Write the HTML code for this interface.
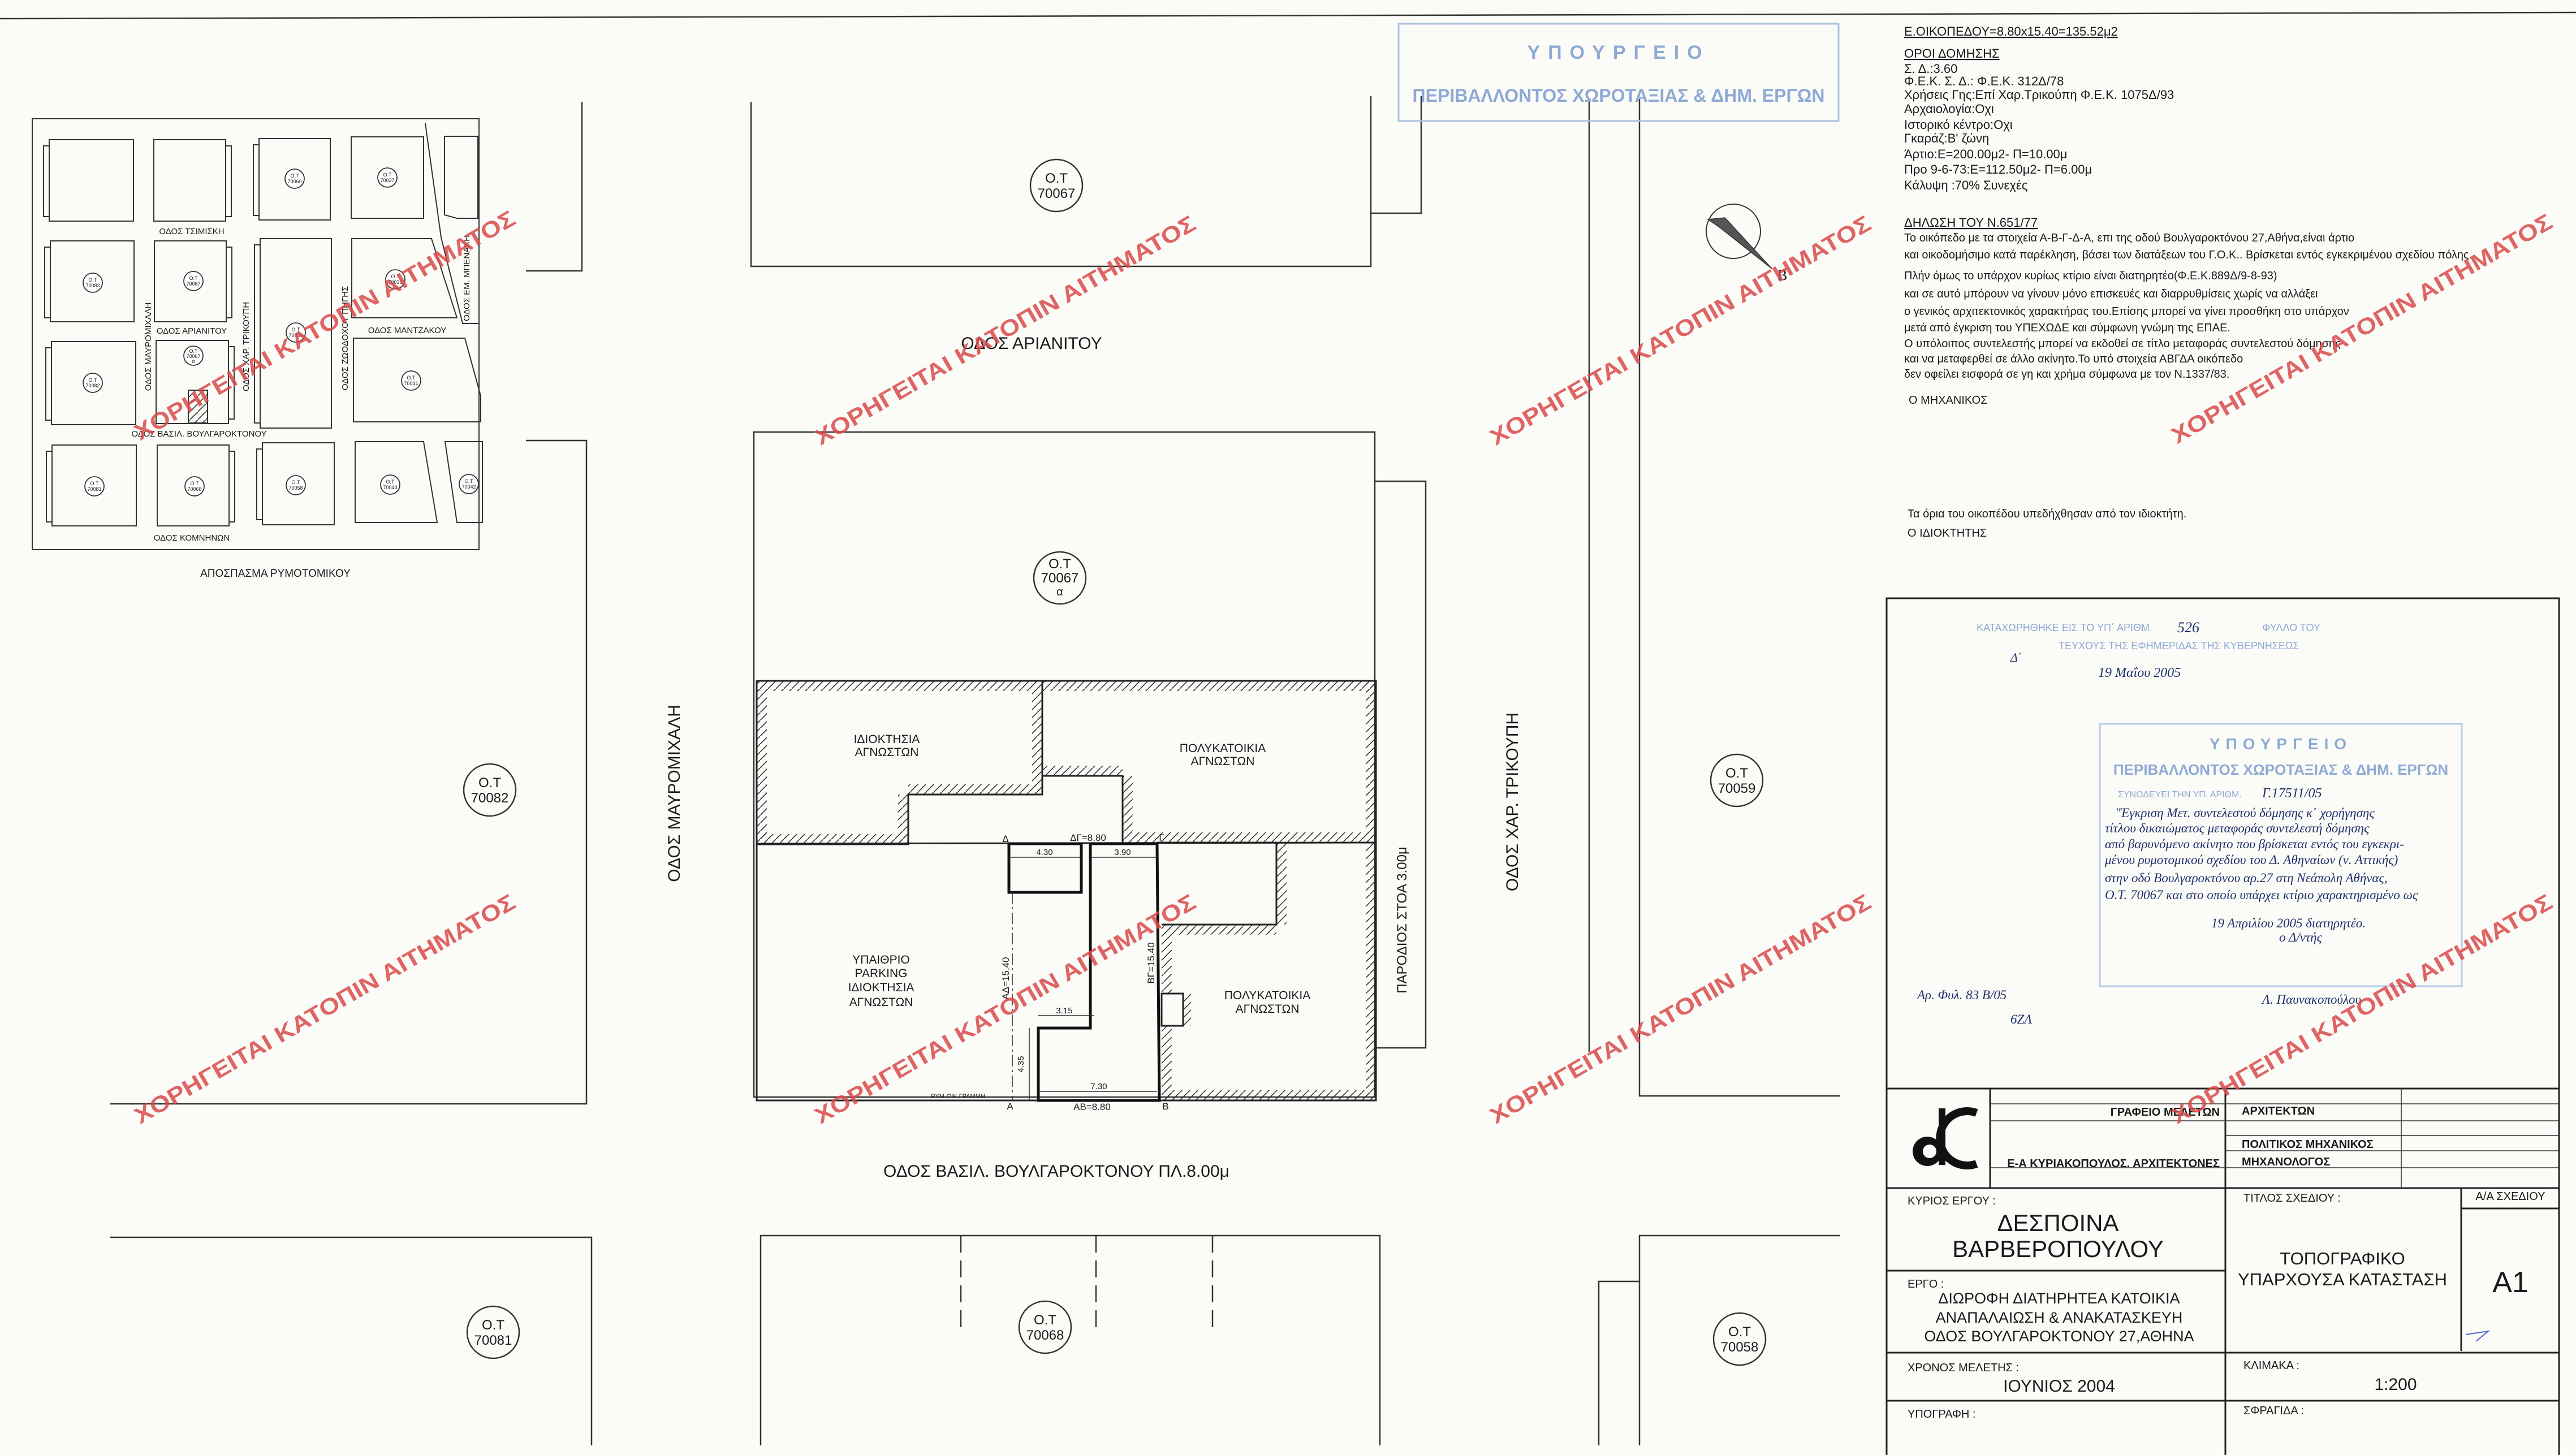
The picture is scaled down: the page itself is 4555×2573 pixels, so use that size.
<!DOCTYPE html>
<html><head><meta charset="utf-8"><style>
html,body{margin:0;padding:0;background:#fbfbf8}
svg{display:block}
text{font-family:"Liberation Sans",sans-serif;fill:#1a1a1a}
.wm text,text.wm{font-weight:bold;font-size:40px;fill:#d84a4a;fill-opacity:.85}
.bl,.bl text{fill:#1f2f6a;font-family:"Liberation Serif",serif;font-style:italic}
.st,.st text{fill:#8eaad4}
</style></head><body>
<svg width="4555" height="2573" viewBox="0 0 4555 2573" xmlns="http://www.w3.org/2000/svg">
<defs>
<pattern id="h" patternUnits="userSpaceOnUse" width="14" height="14">
<line x1="0" y1="14" x2="14" y2="0" stroke="#333" stroke-width="1.6"/>
</pattern>
</defs>
<rect width="4555" height="2573" fill="#fbfbf8"/>
<line x1="0" y1="33" x2="4555" y2="22" stroke="#333" stroke-width="2.5"/>

<!-- KEY MAP -->
<g stroke="#333" stroke-width="2" fill="none">
<rect x="57" y="210" width="790" height="762"/>
<rect x="87" y="247" width="149" height="144"/><rect x="77" y="258" width="10" height="125"/>
<rect x="272" y="247" width="127" height="144"/><rect x="399" y="258" width="10" height="125"/>
<rect x="458" y="245" width="126" height="144"/><rect x="448" y="256" width="10" height="125"/>
<rect x="621" y="242" width="128" height="144"/>
<polyline points="786,241 845,241 845,386 808,386 786,380 786,241"/>
<rect x="89" y="426" width="148" height="143"/><rect x="79" y="437" width="10" height="125"/>
<rect x="273" y="426" width="127" height="143"/><rect x="400" y="437" width="10" height="125"/>
<rect x="460" y="422" width="126" height="335"/><rect x="450" y="433" width="10" height="315"/>
<polygon points="622,422 763,422 808,562 622,562"/>
<polyline points="752,218 780,420 818,572 846,572"/>
<rect x="91" y="604" width="149" height="147"/><rect x="81" y="615" width="10" height="128"/>
<rect x="276" y="602" width="128" height="147"/><rect x="404" y="613" width="10" height="128"/>
<polygon points="625,598 822,598 850,700 850,746 625,746"/>
<rect x="92" y="787" width="149" height="143"/><rect x="82" y="798" width="10" height="125"/>
<rect x="278" y="787" width="127" height="143"/><rect x="405" y="798" width="10" height="125"/>
<rect x="464" y="783" width="127" height="145"/><rect x="454" y="794" width="10" height="125"/>
<polygon points="628,781 749,781 773,924 628,924"/>
<polygon points="787,781 853,781 853,924 808,924"/>
</g>
<rect x="333" y="690" width="34" height="58" fill="url(#h)" stroke="#333" stroke-width="2"/>
<g fill="#fff" stroke="#333" stroke-width="1.8">
<circle cx="521" cy="316" r="17"/><circle cx="685" cy="314" r="17"/><circle cx="164" cy="500" r="17"/><circle cx="342" cy="497" r="17"/><circle cx="699" cy="494" r="17"/><circle cx="523" cy="588" r="17"/><circle cx="342" cy="629" r="17"/><circle cx="164" cy="677" r="17"/><circle cx="727" cy="673" r="17"/><circle cx="167" cy="860" r="17"/><circle cx="344" cy="860" r="17"/><circle cx="523" cy="858" r="17"/><circle cx="690" cy="857" r="17"/><circle cx="829" cy="856" r="17"/>
</g>
<g font-size="9" text-anchor="middle">
<text x="521" y="314">Ο.Τ</text><text x="521" y="324">70060</text>
<text x="685" y="312">Ο.Τ</text><text x="685" y="322">70037</text>
<text x="164" y="498">Ο.Τ</text><text x="164" y="508">70083</text>
<text x="342" y="495">Ο.Τ</text><text x="342" y="505">70067</text>
<text x="699" y="492">Ο.Τ</text><text x="699" y="502">70038</text>
<text x="523" y="586">Ο.Τ</text><text x="523" y="596">70059</text>
<text x="342" y="624">Ο.Τ</text><text x="342" y="633">70067</text><text x="342" y="642">α</text>
<text x="164" y="675">Ο.Τ</text><text x="164" y="685">70082</text>
<text x="727" y="671">Ο.Τ</text><text x="727" y="681">70041</text>
<text x="167" y="858">Ο.Τ</text><text x="167" y="868">70081</text>
<text x="344" y="858">Ο.Τ</text><text x="344" y="868">70068</text>
<text x="523" y="856">Ο.Τ</text><text x="523" y="866">70058</text>
<text x="690" y="855">Ο.Τ</text><text x="690" y="865">70043</text>
<text x="829" y="854">Ο.Τ</text><text x="829" y="864">70042</text>
</g>
<g font-size="15" text-anchor="middle">
<text x="339" y="414">ΟΔΟΣ ΤΣΙΜΙΣΚΗ</text>
<text x="339" y="590">ΟΔΟΣ ΑΡΙΑΝΙΤΟΥ</text>
<text x="352" y="772">ΟΔΟΣ ΒΑΣΙΛ. ΒΟΥΛΓΑΡΟΚΤΟΝΟΥ</text>
<text x="339" y="956">ΟΔΟΣ ΚΟΜΝΗΝΩΝ</text>
<text x="720" y="589">ΟΔΟΣ ΜΑΝΤΖΑΚΟΥ</text>
<text transform="translate(267,613) rotate(-90)">ΟΔΟΣ ΜΑΥΡΟΜΙΧΑΛΗ</text>
<text transform="translate(440,613) rotate(-90)">ΟΔΟΣ ΧΑΡ. ΤΡΙΚΟΥΠΗ</text>
<text transform="translate(615,598) rotate(-90)">ΟΔΟΣ ΖΩΟΔΟΧΟΥ ΠΗΓΗΣ</text>
<text transform="translate(830,492) rotate(-90)">ΟΔΟΣ ΕΜ. ΜΠΕΝΑΚΗ</text>
<text x="487" y="1020" font-size="19">ΑΠΟΣΠΑΣΜΑ ΡΥΜΟΤΟΜΙΚΟΥ</text>
</g>

<!-- MAIN PLAN street blocks -->
<g stroke="#333" stroke-width="2.5" fill="none">
<polyline points="1029,180 1029,479 930,479"/>
<polyline points="1328,180 1328,471 2424,471 2424,170"/>
<polyline points="2424,377 2513,377 2513,170"/>
<polyline points="930,779 1037,779 1037,1952 195,1952"/>
<rect x="1333" y="764" width="1098" height="1176"/>
<polyline points="2431,851 2521,851 2521,1853 2431,1853"/>
<line x1="2810" y1="175" x2="2810" y2="1860"/>
<polyline points="2899,175 2899,1938 3254,1938"/>
<polyline points="195,2188 1046,2188 1046,2556"/>
<polyline points="1345,2556 1345,2185 2440,2185 2440,2556"/>
<g stroke-dasharray="30,14"><line x1="1699" y1="2185" x2="1699" y2="2353"/><line x1="1938" y1="2185" x2="1938" y2="2353"/><line x1="2144" y1="2185" x2="2144" y2="2353"/></g>
<polyline points="3254,2185 2899,2185 2899,2556"/>
<polyline points="2827,2556 2827,2266 2899,2266"/>
</g>

<!-- hatched walls -->
<g fill="url(#h)">
<rect x="1338" y="1204" width="1095" height="18"/>
<rect x="1338" y="1204" width="18" height="290"/>
<rect x="1338" y="1475" width="268" height="18"/>
<rect x="1588" y="1405" width="18" height="88"/>
<rect x="1606" y="1387" width="237" height="18"/>
<rect x="1825" y="1204" width="18" height="201"/>
<rect x="1843" y="1354" width="142" height="18"/>
<rect x="1985" y="1372" width="18" height="118"/>
<rect x="2003" y="1472" width="430" height="18"/>
<rect x="2415" y="1204" width="18" height="742"/>
<rect x="2257" y="1490" width="18" height="145"/>
<rect x="2054" y="1635" width="203" height="18"/>
<rect x="2054" y="1635" width="18" height="311"/>
<rect x="2092" y="1757" width="14" height="57"/>
<rect x="2054" y="1928" width="379" height="18"/>
</g>
<g stroke="#222" stroke-width="3" fill="none">
<rect x="1338" y="1204" width="1095" height="742"/>
<polyline points="1338,1493 1606,1493 1606,1405 1843,1405 1843,1204"/>
<polyline points="1843,1372 1985,1372 1985,1492"/>
<line x1="1338" y1="1492" x2="2433" y2="1490"/>
<polyline points="2046,1490 2257,1490 2257,1635 2054,1635"/>
<rect x="2054" y="1757" width="38" height="57" fill="#fbfbf8"/>
</g>
<g stroke="#111" stroke-width="5" fill="none">
<polygon points="1928,1492 2046,1492 2050,1946 1836,1946 1836,1818 1928,1818"/>
<rect x="1784" y="1492" width="128" height="86"/>
</g>
<g stroke="#333" stroke-width="1.6" fill="none">
<line x1="1790" y1="1578" x2="1790" y2="1946" stroke-dasharray="20,6,4,6"/>
<line x1="1784" y1="1516" x2="1912" y2="1516"/>
<line x1="1928" y1="1516" x2="2046" y2="1516"/>
<line x1="1836" y1="1796" x2="1935" y2="1796"/>
<line x1="1820" y1="1818" x2="1820" y2="1946"/>
<line x1="1836" y1="1930" x2="2046" y2="1930"/>
</g>
<g font-size="21" text-anchor="middle">
<text x="1568" y="1314">ΙΔΙΟΚΤΗΣΙΑ</text><text x="1568" y="1337">ΑΓΝΩΣΤΩΝ</text>
<text x="2162" y="1330">ΠΟΛΥΚΑΤΟΙΚΙΑ</text><text x="2162" y="1353">ΑΓΝΩΣΤΩΝ</text>
<text x="1558" y="1704">ΥΠΑΙΘΡΙΟ</text><text x="1558" y="1728">PARKING</text><text x="1558" y="1753">ΙΔΙΟΚΤΗΣΙΑ</text><text x="1558" y="1779">ΑΓΝΩΣΤΩΝ</text>
<text x="2241" y="1767">ΠΟΛΥΚΑΤΟΙΚΙΑ</text><text x="2241" y="1791">ΑΓΝΩΣΤΩΝ</text>
<text x="1924" y="1487" font-size="17">ΔΓ=8.80</text>
<text x="1931" y="1963" font-size="17">ΑΒ=8.80</text>
<text x="1778" y="1489" font-size="17">Δ</text><text x="2054" y="1487" font-size="17">Γ</text>
<text x="1786" y="1962" font-size="17">Α</text><text x="2061" y="1962" font-size="17">Β</text>
<text x="1694" y="1942" font-size="11">ΡΥΜ-ΟΙΚ.ΓΡΑΜΜΗ</text>
<text x="1847" y="1512" font-size="15">4.30</text>
<text x="1985" y="1512" font-size="15">3.90</text>
<text x="1882" y="1792" font-size="15">3.15</text>
<text x="1943" y="1926" font-size="15">7.30</text>
<text transform="translate(1810,1882) rotate(-90)" font-size="15">4.35</text>
<text transform="translate(1784,1730) rotate(-90)" font-size="17">ΑΔ=15.40</text>
<text transform="translate(2041,1703) rotate(-90)" font-size="17">ΒΓ=15.40</text>
</g>
<g font-size="30" text-anchor="middle">
<text x="1824" y="617">ΟΔΟΣ ΑΡΙΑΝΙΤΟΥ</text>
<text x="1868" y="2081">ΟΔΟΣ ΒΑΣΙΛ. ΒΟΥΛΓΑΡΟΚΤΟΝΟΥ ΠΛ.8.00μ</text>
<text transform="translate(1202,1403) rotate(-90)">ΟΔΟΣ ΜΑΥΡΟΜΙΧΑΛΗ</text>
<text transform="translate(2684,1418) rotate(-90)">ΟΔΟΣ ΧΑΡ. ΤΡΙΚΟΥΠΗ</text>
<text transform="translate(2487,1627) rotate(-90)" font-size="24">ΠΑΡΟΔΙΟΣ ΣΤΟΑ 3.00μ</text>
</g>
<g fill="#fbfbf8" stroke="#333" stroke-width="2.5">
<circle cx="1868" cy="328" r="46"/><circle cx="1874" cy="1022" r="46"/><circle cx="866" cy="1397" r="46"/><circle cx="3071" cy="1380" r="46"/><circle cx="872" cy="2356" r="46"/><circle cx="1848" cy="2347" r="46"/><circle cx="3076" cy="2368" r="46"/>
</g>
<g font-size="24" text-anchor="middle">
<text x="1868" y="323">Ο.Τ</text><text x="1868" y="350">70067</text>
<text x="1874" y="1005">Ο.Τ</text><text x="1874" y="1030">70067</text><text x="1874" y="1053" font-size="20">α</text>
<text x="866" y="1392">Ο.Τ</text><text x="866" y="1419">70082</text>
<text x="3071" y="1375">Ο.Τ</text><text x="3071" y="1402">70059</text>
<text x="872" y="2351">Ο.Τ</text><text x="872" y="2378">70081</text>
<text x="1848" y="2342">Ο.Τ</text><text x="1848" y="2369">70068</text>
<text x="3076" y="2363">Ο.Τ</text><text x="3076" y="2390">70058</text>
</g>
<circle cx="3065" cy="409" r="48" fill="none" stroke="#333" stroke-width="2"/>
<polygon points="3020,388 3050,385 3133,475 3038,400" fill="#555" stroke="#333" stroke-width="1.5"/>
<text x="3143" y="495" font-size="26" style="font-family:'Liberation Serif',serif">Β</text>

<rect x="2473" y="42" width="778" height="172" fill="none" stroke="#a9c0e0" stroke-width="3"/>
<text x="2862" y="104" class="st" font-size="34" text-anchor="middle" font-weight="bold" letter-spacing="14">ΥΠΟΥΡΓΕΙΟ</text>
<text x="2862" y="180" class="st" font-size="32" text-anchor="middle" font-weight="bold">ΠΕΡΙΒΑΛΛΟΝΤΟΣ ΧΩΡΟΤΑΞΙΑΣ &amp; ΔΗΜ. ΕΡΓΩΝ</text>

<g font-size="22">
<text x="3367" y="63" text-decoration="underline">Ε.ΟΙΚΟΠΕΔΟΥ=8.80x15.40=135.52μ2</text>
<text x="3367" y="102" text-decoration="underline">ΟΡΟΙ ΔΟΜΗΣΗΣ</text>
<text x="3367" y="129">Σ. Δ.:3.60</text>
<text x="3367" y="151">Φ.Ε.Κ.   Σ. Δ.: Φ.Ε.Κ. 312Δ/78</text>
<text x="3367" y="175">Χρήσεις Γης:Επί Χαρ.Τρικούπη  Φ.Ε.Κ. 1075Δ/93</text>
<text x="3367" y="200">Αρχαιολογία:Οχι</text>
<text x="3367" y="228">Ιστορικό κέντρο:Οχι</text>
<text x="3367" y="252">Γκαράζ:Β' ζώνη</text>
<text x="3367" y="280">Άρτιο:Ε=200.00μ2-  Π=10.00μ</text>
<text x="3367" y="307">Προ 9-6-73:Ε=112.50μ2-  Π=6.00μ</text>
<text x="3367" y="335">Κάλυψη :70%  Συνεχές</text>
<text x="3367" y="401" text-decoration="underline">ΔΗΛΩΣΗ ΤΟΥ Ν.651/77</text>
</g>
<g font-size="20">
<text x="3367" y="427">Το οικόπεδο με τα στοιχεία Α-Β-Γ-Δ-Α, επι της οδού Βουλγαροκτόνου 27,Αθήνα,είναι άρτιο</text>
<text x="3367" y="457">και οικοδομήσιμο κατά παρέκληση, βάσει των διατάξεων του Γ.Ο.Κ.. Βρίσκεται εντός  εγκεκριμένου σχεδίου πόλης.</text>
<text x="3367" y="494">Πλήν όμως το υπάρχον κυρίως κτίριο είναι διατηρητέο(Φ.Ε.Κ.889Δ/9-8-93)</text>
<text x="3367" y="526">και σε αυτό μπόρουν να γίνουν μόνο επισκευές και διαρρυθμίσεις χωρίς να αλλάξει</text>
<text x="3367" y="557">ο γενικός αρχιτεκτονικός χαρακτήρας του.Επίσης μπορεί να γίνει προσθήκη στο υπάρχον</text>
<text x="3367" y="586">μετά από έγκριση του ΥΠΕΧΩΔΕ και σύμφωνη γνώμη της ΕΠΑΕ.</text>
<text x="3367" y="614">Ο υπόλοιπος συντελεστής μπορεί να εκδοθεί σε τίτλο μεταφοράς συντελεστού δόμησης</text>
<text x="3367" y="641">και να μεταφερθεί σε άλλο ακίνητο.Το υπό στοιχεία ΑΒΓΔΑ οικόπεδο</text>
<text x="3367" y="668">δεν οφείλει εισφορά σε γη και χρήμα σύμφωνα με τον Ν.1337/83.</text>
<text x="3375" y="714">Ο ΜΗΧΑΝΙΚΟΣ</text>
<text x="3373" y="915">Τα όρια του οικοπέδου υπεδήχθησαν από τον ιδιοκτήτη.</text>
<text x="3373" y="949">Ο ΙΔΙΟΚΤΗΤΗΣ</text>
</g>

<!-- TITLE BLOCK -->
<g stroke="#222" stroke-width="3" fill="none">
<polyline points="3336,2573 3336,1058 4525,1058 4525,2573"/>
<line x1="3336" y1="1925" x2="4525" y2="1925"/>
<line x1="3336" y1="2101" x2="4525" y2="2101"/>
<line x1="3519" y1="1925" x2="3519" y2="2101"/>
<line x1="3935" y1="1925" x2="3935" y2="2573"/>
<line x1="4352" y1="2101" x2="4352" y2="2389"/>
<line x1="4352" y1="2137" x2="4525" y2="2137"/>
<line x1="3336" y1="2247" x2="3935" y2="2247"/>
<line x1="3336" y1="2392" x2="4525" y2="2392"/>
<line x1="3336" y1="2477" x2="4525" y2="2477"/>
</g>
<g stroke="#333" stroke-width="1.6">
<line x1="3519" y1="1952" x2="4525" y2="1952"/>
<line x1="3519" y1="1982" x2="4525" y2="1982"/>
<line x1="4246" y1="1925" x2="4246" y2="2101"/>
<line x1="3935" y1="2008" x2="4525" y2="2008"/>
<line x1="3935" y1="2035" x2="4525" y2="2035"/>
<line x1="3519" y1="2065" x2="4525" y2="2065"/>
</g>
<circle cx="3408" cy="2036" r="26" fill="#111"/>
<circle cx="3412" cy="2036" r="12" fill="#fbfbf8"/>
<rect x="3428" y="1960" width="12" height="100" fill="#111"/>
<path d="M3495,1968 A48,48 0 1 0 3495,2058" fill="none" stroke="#111" stroke-width="14"/>
<g font-size="20" font-weight="bold">
<text x="3925" y="1973" text-anchor="end">ΓΡΑΦΕΙΟ ΜΕΛΕΤΩΝ</text>
<text x="3964" y="1971">ΑΡΧΙΤΕΚΤΩΝ</text>
<text x="3964" y="2030">ΠΟΛΙΤΙΚΟΣ ΜΗΧΑΝΙΚΟΣ</text>
<text x="3964" y="2061">ΜΗΧΑΝΟΛΟΓΟΣ</text>
<text x="3925" y="2064" text-anchor="end">Ε-Α ΚΥΡΙΑΚΟΠΟΥΛΟΣ. ΑΡΧΙΤΕΚΤΟΝΕΣ</text>
</g>
<g font-size="20">
<text x="3373" y="2130">ΚΥΡΙΟΣ ΕΡΓΟΥ :</text>
<text x="3373" y="2277">ΕΡΓΟ :</text>
<text x="3373" y="2425">ΧΡΟΝΟΣ ΜΕΛΕΤΗΣ :</text>
<text x="3373" y="2507">ΥΠΟΓΡΑΦΗ :</text>
<text x="3967" y="2125">ΤΙΤΛΟΣ ΣΧΕΔΙΟΥ :</text>
<text x="4439" y="2122" text-anchor="middle">Α/Α ΣΧΕΔΙΟΥ</text>
<text x="3967" y="2421">ΚΛΙΜΑΚΑ :</text>
<text x="3967" y="2501">ΣΦΡΑΓΙΔΑ :</text>
</g>
<g text-anchor="middle">
<text x="3639" y="2177" font-size="42">ΔΕΣΠΟΙΝΑ</text>
<text x="3639" y="2223" font-size="42">ΒΑΡΒΕΡΟΠΟΥΛΟΥ</text>
<text x="3641" y="2305" font-size="27">ΔΙΩΡΟΦΗ ΔΙΑΤΗΡΗΤΕΑ ΚΑΤΟΙΚΙΑ</text>
<text x="3641" y="2339" font-size="27">ΑΝΑΠΑΛΑΙΩΣΗ &amp; ΑΝΑΚΑΤΑΣΚΕΥΗ</text>
<text x="3641" y="2372" font-size="27">ΟΔΟΣ ΒΟΥΛΓΑΡΟΚΤΟΝΟΥ 27,ΑΘΗΝΑ</text>
<text x="3641" y="2461" font-size="30">ΙΟΥΝΙΟΣ 2004</text>
<text x="4142" y="2236" font-size="31">ΤΟΠΟΓΡΑΦΙΚΟ</text>
<text x="4142" y="2273" font-size="31">ΥΠΑΡΧΟΥΣΑ ΚΑΤΑΣΤΑΣΗ</text>
<text x="4439" y="2285" font-size="52">Α1</text>
<text x="4236" y="2458" font-size="30">1:200</text>
</g>
<g font-size="18" class="st">
<text x="3495" y="1116">ΚΑΤΑΧΩΡΗΘΗΚΕ ΕΙΣ ΤΟ ΥΠ΄ ΑΡΙΘΜ.</text>
<text x="3640" y="1148">ΤΕΥΧΟΥΣ ΤΗΣ ΕΦΗΜΕΡΙΔΑΣ ΤΗΣ ΚΥΒΕΡΝΗΣΕΩΣ</text>
<text x="4000" y="1116">ΦΥΛΛΟ ΤΟΥ</text>
</g>
<text x="3850" y="1118" class="bl" font-size="26">526</text>
<text x="3555" y="1170" class="bl" font-size="22">Δ΄</text>
<text x="3710" y="1197" class="bl" font-size="24">19  Μαΐου        2005</text>
<rect x="3713" y="1280" width="640" height="464" fill="none" stroke="#b8cbe6" stroke-width="3"/>
<text x="4033" y="1325" class="st" font-size="28" text-anchor="middle" font-weight="bold" letter-spacing="10">ΥΠΟΥΡΓΕΙΟ</text>
<text x="4033" y="1370" class="st" font-size="26" text-anchor="middle" font-weight="bold">ΠΕΡΙΒΑΛΛΟΝΤΟΣ ΧΩΡΟΤΑΞΙΑΣ &amp; ΔΗΜ. ΕΡΓΩΝ</text>
<text x="3745" y="1410" class="st" font-size="16">ΣΥΝΟΔΕΥΕΙ ΤΗΝ ΥΠ. ΑΡΙΘΜ.</text>
<text x="4000" y="1410" class="bl" font-size="24">Γ.17511/05</text>
<g class="bl" font-size="23">
<text x="3740" y="1445">"Έγκριση Μετ. συντελεστού δόμησης κ΄ χορήγησης</text>
<text x="3722" y="1472">τίτλου δικαιώματος μεταφοράς συντελεστή δόμησης</text>
<text x="3722" y="1500">από βαρυνόμενο ακίνητο που βρίσκεται εντός του εγκεκρι-</text>
<text x="3722" y="1528">μένου ρυμοτομικού σχεδίου του Δ. Αθηναίων (ν. Αττικής)</text>
<text x="3722" y="1560">στην οδό Βουλγαροκτόνου αρ.27 στη Νεάπολη Αθήνας,</text>
<text x="3722" y="1590">Ο.Τ. 70067 και στο οποίο υπάρχει κτίριο χαρακτηρισμένο ως</text>
<text x="3910" y="1640">19  Απριλίου            2005       διατηρητέο.</text>
<text x="4030" y="1665">ο Δ/ντής</text>
<text x="4000" y="1775">Λ. Παυνακοπούλου</text>
<text x="3390" y="1767">Αρ. Φυλ.   83 Β/05</text>
<text x="3555" y="1810">6ΖΛ</text>
</g>
<path d="M4360,2360 l40,-6 l-22,18" fill="none" stroke="#4a6ac8" stroke-width="2"/>

<g class="wm" text-anchor="middle">
<text transform="translate(581,587) rotate(-30)" textLength="770" lengthAdjust="spacingAndGlyphs">ΧΟΡΗΓΕΙΤΑΙ ΚΑΤΟΠΙΝ ΑΙΤΗΜΑΤΟΣ</text>
<text transform="translate(1784,596) rotate(-30)" textLength="770" lengthAdjust="spacingAndGlyphs">ΧΟΡΗΓΕΙΤΑΙ ΚΑΤΟΠΙΝ ΑΙΤΗΜΑΤΟΣ</text>
<text transform="translate(2978,596) rotate(-30)" textLength="770" lengthAdjust="spacingAndGlyphs">ΧΟΡΗΓΕΙΤΑΙ ΚΑΤΟΠΙΝ ΑΙΤΗΜΑΤΟΣ</text>
<text transform="translate(4183,593) rotate(-30)" textLength="770" lengthAdjust="spacingAndGlyphs">ΧΟΡΗΓΕΙΤΑΙ ΚΑΤΟΠΙΝ ΑΙΤΗΜΑΤΟΣ</text>
<text transform="translate(581,1796) rotate(-30)" textLength="770" lengthAdjust="spacingAndGlyphs">ΧΟΡΗΓΕΙΤΑΙ ΚΑΤΟΠΙΝ ΑΙΤΗΜΑΤΟΣ</text>
<text transform="translate(1784,1796) rotate(-30)" textLength="770" lengthAdjust="spacingAndGlyphs">ΧΟΡΗΓΕΙΤΑΙ ΚΑΤΟΠΙΝ ΑΙΤΗΜΑΤΟΣ</text>
<text transform="translate(2978,1796) rotate(-30)" textLength="770" lengthAdjust="spacingAndGlyphs">ΧΟΡΗΓΕΙΤΑΙ ΚΑΤΟΠΙΝ ΑΙΤΗΜΑΤΟΣ</text>
<text transform="translate(4183,1796) rotate(-30)" textLength="770" lengthAdjust="spacingAndGlyphs">ΧΟΡΗΓΕΙΤΑΙ ΚΑΤΟΠΙΝ ΑΙΤΗΜΑΤΟΣ</text>
</g>
</svg>
</body></html>
